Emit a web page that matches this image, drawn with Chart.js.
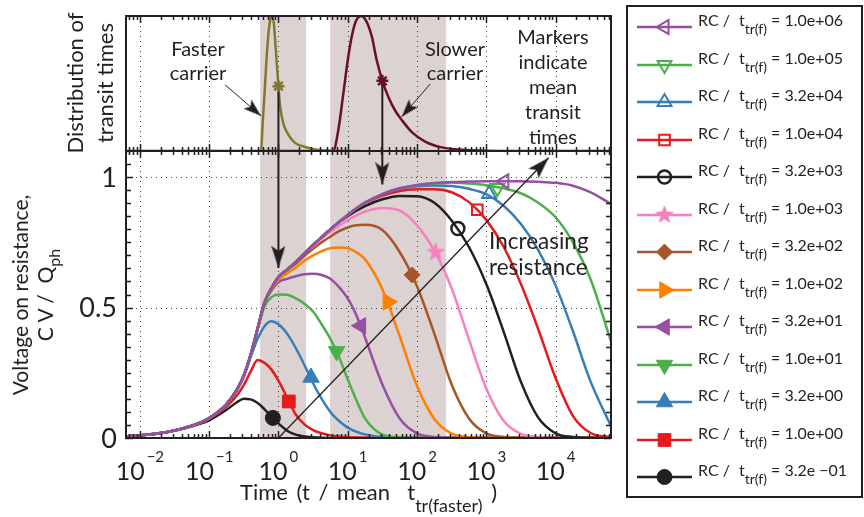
<!DOCTYPE html>
<html>
<head>
<meta charset="utf-8">
<title>Voltage on resistance for increasing RC</title>
<script src="https://cdn.jsdelivr.net/npm/chart.js@4.4.1/dist/chart.umd.min.js"></script>
<style>
  html, body { margin: 0; padding: 0; background: #fff; }
  #fig { position: relative; width: 864px; height: 517px; overflow: hidden;
         font-family: Lato, "Open Sans", sans-serif; color: #231f20; }
  #fig canvas { position: absolute; left: 0; top: 0; }
  .txt { position: absolute; white-space: nowrap; }
  .sub { position: relative; }
  #legendBox { position: absolute; left: 626px; top: 5px; width: 233px; height: 489px;
               border: 2px solid #231f20; }
</style>
</head>
<body>
<div id="fig">
  <canvas id="main" width="864" height="517"></canvas>
  <canvas id="dist" width="864" height="517"></canvas>

  <div class="txt" style="left:148px;top:36px;width:100px;text-align:center;font-size:20px;line-height:24px">Faster<br>carrier</div>
  <div class="txt" style="left:405px;top:36px;width:100px;text-align:center;font-size:20px;line-height:24px">Slower<br>carrier</div>
  <div class="txt" style="left:503px;top:24px;width:100px;text-align:center;font-size:20px;line-height:25px">Markers<br>indicate<br>mean<br>transit<br>times</div>
  <div class="txt" style="left:489px;top:228px;font-size:22.5px;line-height:26px">Increasing<br>resistance</div>

  <div class="txt" style="left:15px;top:53px;width:150px;height:60px;text-align:center;font-size:22px;line-height:30px;transform:rotate(-90deg)">Distribution of<br>transit times</div>
  <div class="txt" style="left:-118px;top:270px;width:300px;height:50px;text-align:center;font-size:21px;line-height:25px;transform:rotate(-90deg)">Voltage on resistance,<br>C V /&nbsp; Q<span class="sub" style="font-size:16px;top:7px">ph</span></div>
  <div class="txt" style="left:240px;top:481px;font-size:22px;line-height:22px;word-spacing:3px">Time (t / mean&nbsp;&nbsp;t<span class="sub" style="font-size:18px;top:12px">tr(faster)</span> )</div>

  <div id="legendBox"></div>
  <div id="legend"></div>
</div>

<script>
// ---------------- data ----------------
// sample times, as powers of ten of t / mean t_tr(faster)
const timeExp = [-2.2, -2, -1.75, -1.5, -1.25, -1, -0.75, -0.6, -0.5, -0.4, -0.3, -0.2, -0.1, 0,
  0.125, 0.25, 0.375, 0.5, 0.625, 0.75, 0.875, 1, 1.125, 1.25, 1.5, 1.75, 2, 2.25, 2.5, 2.75,
  3, 3.25, 3.5, 3.75, 4, 4.25, 4.5, 4.8];
const times = timeExp.map(function (e) { return Math.pow(10, e); });

const rcLabels = ['1.0e+06', '1.0e+05', '3.2e+04', '1.0e+04', '3.2e+03', '1.0e+03', '3.2e+02',
  '1.0e+02', '3.2e+01', '1.0e+01', '3.2e+00', '1.0e+00', '3.2e \u221201'];

// C V / Q_ph for each RC / t_tr(f)
const vRC1e6 = [0.006, 0.010, 0.017, 0.029, 0.047, 0.076, 0.13, 0.185, 0.24, 0.32, 0.42, 0.52, 0.575, 0.617,
  0.645, 0.675, 0.707, 0.74, 0.77, 0.80, 0.828, 0.855, 0.88, 0.902, 0.935, 0.957, 0.970, 0.977, 0.981, 0.983,
  0.984, 0.984, 0.984, 0.982, 0.978, 0.967, 0.942, 0.897];
const vRC1e5 = [0.006, 0.010, 0.017, 0.029, 0.047, 0.076, 0.13, 0.185, 0.24, 0.32, 0.42, 0.52, 0.575, 0.617,
  0.645, 0.675, 0.707, 0.74, 0.77, 0.80, 0.828, 0.855, 0.88, 0.902, 0.935, 0.957, 0.969, 0.975, 0.979, 0.975,
  0.969, 0.957, 0.938, 0.902, 0.846, 0.75, 0.612, 0.37];
const vRC3e4 = [0.006, 0.010, 0.017, 0.029, 0.047, 0.076, 0.13, 0.185, 0.24, 0.32, 0.42, 0.52, 0.575, 0.617,
  0.645, 0.675, 0.707, 0.74, 0.77, 0.80, 0.828, 0.855, 0.88, 0.902, 0.934, 0.955, 0.965, 0.968, 0.966, 0.955,
  0.935, 0.89, 0.82, 0.72, 0.585, 0.41, 0.22, 0.045];
const vRC1e4 = [0.006, 0.010, 0.017, 0.029, 0.047, 0.076, 0.13, 0.185, 0.24, 0.32, 0.42, 0.52, 0.575, 0.617,
  0.645, 0.675, 0.707, 0.74, 0.77, 0.80, 0.828, 0.855, 0.88, 0.90, 0.929, 0.947, 0.953, 0.953, 0.942, 0.904,
  0.836, 0.733, 0.59, 0.417, 0.23, 0.085, 0.02, 0.003];
const vRC3e3 = [0.006, 0.010, 0.017, 0.029, 0.047, 0.076, 0.13, 0.185, 0.24, 0.32, 0.42, 0.52, 0.575, 0.617,
  0.645, 0.675, 0.707, 0.74, 0.77, 0.80, 0.828, 0.85, 0.871, 0.889, 0.915, 0.928, 0.927, 0.902, 0.834, 0.732,
  0.59, 0.408, 0.215, 0.078, 0.018, 0.004, 0.001, 0];
const vRC1e3 = [0.006, 0.010, 0.017, 0.029, 0.047, 0.076, 0.13, 0.185, 0.24, 0.32, 0.42, 0.52, 0.575, 0.617,
  0.645, 0.675, 0.707, 0.735, 0.764, 0.79, 0.813, 0.835, 0.853, 0.868, 0.882, 0.872, 0.815, 0.718, 0.574, 0.378,
  0.19, 0.066, 0.016, 0.004, 0.001, 0, 0, 0];
const vRC3e2 = [0.006, 0.010, 0.017, 0.029, 0.047, 0.076, 0.13, 0.185, 0.24, 0.32, 0.42, 0.52, 0.575, 0.617,
  0.645, 0.668, 0.698, 0.725, 0.75, 0.772, 0.793, 0.807, 0.815, 0.817, 0.797, 0.713, 0.582, 0.40, 0.205, 0.075,
  0.018, 0.004, 0.001, 0, 0, 0, 0, 0];
const vRC1e2 = [0.006, 0.010, 0.017, 0.029, 0.047, 0.076, 0.13, 0.185, 0.24, 0.32, 0.42, 0.52, 0.57, 0.606,
  0.631, 0.653, 0.679, 0.70, 0.716, 0.727, 0.73, 0.727, 0.712, 0.685, 0.57, 0.39, 0.2, 0.073, 0.017, 0.004,
  0.001, 0, 0, 0, 0, 0, 0, 0];
const vRC3e1 = [0.006, 0.010, 0.017, 0.029, 0.047, 0.076, 0.13, 0.185, 0.24, 0.32, 0.42, 0.52, 0.565, 0.597,
  0.61, 0.62, 0.628, 0.63, 0.625, 0.61, 0.578, 0.535, 0.47, 0.385, 0.205, 0.075, 0.018, 0.004, 0.001, 0,
  0, 0, 0, 0, 0, 0, 0, 0];
const vRC1e1 = [0.006, 0.010, 0.017, 0.029, 0.047, 0.076, 0.13, 0.185, 0.24, 0.32, 0.415, 0.505, 0.54, 0.55,
  0.549, 0.535, 0.515, 0.485, 0.435, 0.38, 0.31, 0.225, 0.145, 0.075, 0.013, 0.003, 0.001, 0, 0, 0,
  0, 0, 0, 0, 0, 0, 0, 0];
const vRC3e0 = [0.006, 0.010, 0.017, 0.029, 0.047, 0.075, 0.128, 0.182, 0.233, 0.31, 0.38, 0.428, 0.447, 0.436,
  0.40, 0.345, 0.28, 0.21, 0.15, 0.10, 0.065, 0.04, 0.024, 0.014, 0.004, 0.001, 0, 0, 0, 0,
  0, 0, 0, 0, 0, 0, 0, 0];
const vRC1e0 = [0.006, 0.010, 0.017, 0.029, 0.046, 0.072, 0.12, 0.163, 0.203, 0.255, 0.299, 0.288, 0.262, 0.22,
  0.155, 0.09, 0.052, 0.03, 0.018, 0.01, 0.006, 0.003, 0.002, 0.001, 0, 0, 0, 0, 0, 0,
  0, 0, 0, 0, 0, 0, 0, 0];
const vRC3em1 = [0.006, 0.010, 0.017, 0.028, 0.045, 0.068, 0.108, 0.137, 0.15, 0.148, 0.134, 0.11, 0.083, 0.056,
  0.028, 0.013, 0.006, 0.003, 0.001, 0, 0, 0, 0, 0, 0, 0, 0, 0, 0, 0,
  0, 0, 0, 0, 0, 0, 0, 0];
const voltages = [vRC1e6, vRC1e5, vRC3e4, vRC1e4, vRC3e3, vRC1e3, vRC3e2, vRC1e2, vRC3e1, vRC1e1, vRC3e0, vRC1e0, vRC3em1];

// marker on each curve (mean transit time of the voltage pulse)
const markerExp = [3.26, 3.16, 3.04, 2.87, 2.59, 2.27, 1.93, 1.58, 1.19, 0.84, 0.47, 0.15, -0.08];
const markerV = [0.984, 0.958, 0.935, 0.875, 0.803, 0.712, 0.625, 0.522, 0.43, 0.332, 0.232, 0.14, 0.077];

// transit time distributions (top panel, peak = 1)
const fastExp = [-0.3, -0.25, -0.23, -0.2, -0.173, -0.144, -0.115, -0.096, -0.067, -0.038, 0, 0.025, 0.073,
  0.145, 0.24, 0.385, 0.58, 0.8, 1.2];
const fastDist = [0, 0, 0.18, 0.43, 0.67, 0.87, 0.98, 1.0, 0.95, 0.75, 0.48, 0.33, 0.2, 0.12, 0.06, 0.03, 0.007, 0.001, 0];
const slowExp = [-2.2, 0.79, 0.866, 0.938, 1.0, 1.059, 1.116, 1.193, 1.26, 1.347, 1.42, 1.5, 1.587, 1.684, 1.78,
  1.925, 2.117, 2.357, 2.597, 2.98, 3.5, 4.8];
const slowDist = [0, 0, 0.16, 0.43, 0.67, 0.85, 0.96, 1.0, 0.97, 0.85, 0.67, 0.52, 0.40, 0.30, 0.23, 0.14, 0.07,
  0.027, 0.012, 0.002, 0, 0];
const meanTransit = [1, 31.6];      // faster, slower
const meanDist = [0.48, 0.52];
const meanArrowTip = [0.652, 0.972]; // where the arrows stop on the voltage axis

// shaded transit windows
const bandLo = [0.545, 5.57];
const bandHi = [2.51, 263];

// annotation arrows: [from, to] in (time, value)
const fasterArrow = [[0.17, 0.49], [0.562, 0.26]];
const slowerArrow = [[155, 0.496], [60.3, 0.254]];
const resistanceArrow = [[1, 0], [7943, 1.074]];

const decades = [-2, -1, 0, 1, 2, 3, 4];
const yTickValues = [0, 0.5, 1];
const yTickLabels = ['0', '0.5', '1'];

// ---------------- styles ----------------
const ink = '#231f20';
const colors = ['#984ea3', '#4daf4a', '#377eb8', '#e41a1c', '#231f20', '#f781bf', '#a65628',
  '#ff7f00', '#984ea3', '#4daf4a', '#377eb8', '#e41a1c', '#231f20'];
const fastColor = '#82772f';
const slowColor = '#6a0f2b';

function makeStar(r, color) {
  var c = document.createElement('canvas');
  c.width = c.height = 2 * r + 2;
  var g = c.getContext('2d');
  g.fillStyle = color;
  g.beginPath();
  for (var k = 0; k < 10; k++) {
    var rad = k % 2 === 0 ? r : r * 0.42;
    var a = -Math.PI / 2 + k * Math.PI / 5;
    g.lineTo(r + 1 + rad * Math.cos(a), r + 1 + rad * Math.sin(a));
  }
  g.closePath();
  g.fill();
  return c;
}

// arrow head pointing up, tip at the centre of the image
function makeArrowHead(w, len, notch) {
  var c = document.createElement('canvas');
  c.width = w;
  c.height = 2 * len;
  var g = c.getContext('2d');
  g.fillStyle = ink;
  g.beginPath();
  g.moveTo(w / 2, len);
  g.lineTo(w, 2 * len);
  g.lineTo(w / 2, 2 * len - notch);
  g.lineTo(0, 2 * len);
  g.closePath();
  g.fill();
  return c;
}

const bigHead = makeArrowHead(14, 22, 5);
const smallHead = makeArrowHead(12, 18, 4);

const markerStyles = [
  { style: 'triangle', rot: 270, r: 8, bw: 2, open: true },
  { style: 'triangle', rot: 180, r: 8, bw: 2, open: true },
  { style: 'triangle', rot: 0, r: 8, bw: 2, open: true },
  { style: 'rect', rot: 0, r: 7.5, bw: 2, open: true },
  { style: 'circle', rot: 0, r: 6.5, bw: 2.5, open: true },
  { style: makeStar(10, '#f781bf'), rot: 0, r: 9, bw: 1, open: false },
  { style: 'rectRot', rot: 0, r: 8, bw: 1, open: false },
  { style: 'triangle', rot: 90, r: 9.5, bw: 1, open: false },
  { style: 'triangle', rot: 270, r: 9.5, bw: 1, open: false },
  { style: 'triangle', rot: 180, r: 9.5, bw: 1, open: false },
  { style: 'triangle', rot: 0, r: 9.5, bw: 1, open: false },
  { style: 'rect', rot: 0, r: 9, bw: 1, open: false },
  { style: 'circle', rot: 0, r: 7.5, bw: 1, open: false }
];

// rotation of the head so that it follows the segment from point 0 to point 1
function headRotation(c) {
  var d = c.dataset.data, xs = c.chart.scales.x, ys = c.chart.scales.y;
  var dx = xs.getPixelForValue(d[1].x) - xs.getPixelForValue(d[0].x);
  var dy = ys.getPixelForValue(d[1].y) - ys.getPixelForValue(d[0].y);
  return Math.atan2(dx, -dy) * 180 / Math.PI;
}

function arrowSet(pts, width, head) {
  return {
    data: pts.map(function (p) { return { x: p[0], y: p[1] }; }),
    borderColor: ink,
    borderWidth: width,
    pointStyle: function (c) { return c.dataIndex === 1 && head ? head : 'circle'; },
    pointRadius: function (c) { return c.dataIndex === 1 && head ? 5 : 0; },
    pointRotation: headRotation,
    order: 2
  };
}

// ---------------- axes, grid, bands ----------------
function axesPlugin(cfg) {
  return {
    id: 'axes' + cfg.name,
    beforeDatasetsDraw: function (chart) {
      var ctx = chart.ctx, a = chart.chartArea, xs = chart.scales.x, ys = chart.scales.y;
      ctx.save();
      ctx.fillStyle = '#dcd2d2';
      bandLo.forEach(function (lo, i) {
        var x0 = xs.getPixelForValue(lo), x1 = xs.getPixelForValue(bandHi[i]);
        ctx.fillRect(x0, a.top, x1 - x0, a.bottom - a.top);
      });
      ctx.strokeStyle = '#444';
      ctx.lineWidth = 1;
      ctx.setLineDash([1, 4]);
      ctx.beginPath();
      decades.forEach(function (d) {
        var px = Math.round(xs.getPixelForValue(Math.pow(10, d))) + 0.5;
        ctx.moveTo(px, a.top);
        ctx.lineTo(px, a.bottom);
      });
      cfg.gridY.forEach(function (v) {
        var py = Math.round(ys.getPixelForValue(v)) + 0.5;
        ctx.moveTo(a.left, py);
        ctx.lineTo(a.right, py);
      });
      ctx.stroke();
      ctx.restore();
    },
    afterDatasetsDraw: function (chart) {
      var ctx = chart.ctx, a = chart.chartArea, xs = chart.scales.x, ys = chart.scales.y;
      ctx.save();
      ctx.strokeStyle = ink;
      ctx.lineWidth = 1.5;
      ctx.beginPath();
      for (var d = -3; d <= 4; d++) {
        for (var k = 1; k <= 9; k++) {
          var v = k * Math.pow(10, d);
          if (v < xs.min || v > xs.max) continue;
          var px = Math.round(xs.getPixelForValue(v)) + 0.5;
          var len = k === 1 ? 7 : 4;
          ctx.moveTo(px, a.bottom); ctx.lineTo(px, a.bottom - len);
          ctx.moveTo(px, a.top); ctx.lineTo(px, a.top + len);
        }
      }
      if (cfg.yStep) {
        for (var y = 0; y <= ys.max + 1e-9; y += cfg.yStep) {
          var py = Math.round(ys.getPixelForValue(y)) + 0.5;
          var l = Math.abs(y * 2 - Math.round(y * 2)) < 1e-6 ? 7 : 5;
          ctx.moveTo(a.left, py); ctx.lineTo(a.left + l, py);
          ctx.moveTo(a.right, py); ctx.lineTo(a.right - l, py);
        }
      }
      ctx.stroke();
      ctx.lineWidth = 2;
      ctx.strokeRect(a.left, a.top, a.right - a.left, a.bottom - a.top);
      ctx.restore();
    },
    afterDraw: function (chart) {
      if (!cfg.labels) return;
      var ctx = chart.ctx, a = chart.chartArea, xs = chart.scales.x, ys = chart.scales.y;
      ctx.save();
      ctx.fillStyle = ink;
      ctx.textBaseline = 'alphabetic';
      decades.forEach(function (d) {
        var px = xs.getPixelForValue(Math.pow(10, d));
        var sup = d < 0 ? '\u2212' + (-d) : String(d);
        ctx.font = '25px Lato';
        var w1 = ctx.measureText('10').width;
        ctx.font = '15px Lato';
        var w2 = ctx.measureText(sup).width;
        var x0 = px - (w1 + 2 + w2) / 2;
        ctx.font = '25px Lato';
        ctx.fillText('10', x0, 480);
        ctx.font = '15px Lato';
        ctx.fillText(sup, x0 + w1 + 2, 462);
      });
      ctx.font = '27px Lato';
      ctx.textAlign = 'right';
      ctx.textBaseline = 'middle';
      yTickValues.forEach(function (v, i) {
        ctx.fillText(yTickLabels[i], a.left - 9, ys.getPixelForValue(v) + 1);
      });
      ctx.restore();
    }
  };
}

// ---------------- main panel ----------------
var curveSets = voltages.map(function (vals, i) {
  return {
    label: 'RC / t_tr(f) = ' + rcLabels[i],
    data: times.map(function (t, j) { return { x: t, y: vals[j] }; }),
    borderColor: colors[i],
    borderWidth: 2.5,
    pointRadius: 0,
    cubicInterpolationMode: 'monotone',
    order: 3
  };
});
var markerSets = voltages.map(function (v, i) {
  var m = markerStyles[i];
  return {
    data: [{ x: Math.pow(10, markerExp[i]), y: markerV[i] }],
    showLine: false,
    pointStyle: m.style,
    pointRotation: m.rot,
    pointRadius: m.r,
    pointBorderWidth: m.bw,
    pointBorderColor: colors[i],
    pointBackgroundColor: m.open ? 'rgba(0,0,0,0)' : colors[i],
    order: 1
  };
});
var meanArrows = meanTransit.map(function (t, i) {
  return arrowSet([[t, 1.1], [t, meanArrowTip[i]]], 2, bigHead);
});

new Chart(document.getElementById('main'), {
  type: 'line',
  data: { datasets: curveSets.concat(markerSets, meanArrows, [arrowSet(resistanceArrow, 1.3, bigHead)]) },
  options: {
    responsive: false,
    animation: false,
    devicePixelRatio: 1,
    events: [],
    layout: { padding: { left: 126, right: 253, top: 151, bottom: 79 } },
    scales: {
      x: { type: 'logarithmic', min: Math.pow(10, -2.2), max: Math.pow(10, 4.8), display: false },
      y: { type: 'linear', min: 0, max: 1.1, display: false }
    },
    plugins: { legend: { display: false }, tooltip: { enabled: false } }
  },
  plugins: [axesPlugin({ name: 'Main', gridY: [0.5, 1], yStep: 0.05, labels: true })]
});

// ---------------- distribution panel ----------------
new Chart(document.getElementById('dist'), {
  type: 'line',
  data: {
    datasets: [
      {
        data: meanTransit.map(function (t, i) { return { x: t, y: meanDist[i] }; }),
        showLine: false,
        pointStyle: 'star',
        pointRadius: 6,
        pointBorderWidth: 2.5,
        pointBorderColor: [fastColor, slowColor],
        order: 1
      },
      arrowSet([[meanTransit[0], meanDist[0]], [meanTransit[0], 0]], 2, null),
      arrowSet([[meanTransit[1], meanDist[1]], [meanTransit[1], 0]], 2, null),
      arrowSet(fasterArrow, 1, smallHead),
      arrowSet(slowerArrow, 1, smallHead),
      {
        data: fastExp.map(function (e, i) { return { x: Math.pow(10, e), y: fastDist[i] }; }),
        borderColor: fastColor, borderWidth: 2.5, pointRadius: 0,
        cubicInterpolationMode: 'monotone', order: 3
      },
      {
        data: slowExp.map(function (e, i) { return { x: Math.pow(10, e), y: slowDist[i] }; }),
        borderColor: slowColor, borderWidth: 2.5, pointRadius: 0,
        cubicInterpolationMode: 'monotone', order: 3
      }
    ]
  },
  options: {
    responsive: false,
    animation: false,
    devicePixelRatio: 1,
    events: [],
    layout: { padding: { left: 126, right: 253, top: 16, bottom: 366 } },
    scales: {
      x: { type: 'logarithmic', min: Math.pow(10, -2.2), max: Math.pow(10, 4.8), display: false },
      y: { type: 'linear', min: 0, max: 1, display: false }
    },
    plugins: { legend: { display: false }, tooltip: { enabled: false } }
  },
  plugins: [axesPlugin({ name: 'Dist', gridY: [], yStep: 0, labels: false })]
});

// ---------------- legend ----------------
var legend = document.getElementById('legend');
rcLabels.forEach(function (lab, i) {
  var yc = 27 + 37.5 * i;
  var m = markerStyles[i];
  var sample = document.createElement('canvas');
  sample.width = 60;
  sample.height = 30;
  sample.style.left = '635px';
  sample.style.top = (yc - 15) + 'px';
  var g = sample.getContext('2d');
  g.strokeStyle = colors[i];
  g.lineWidth = 2.5;
  g.beginPath();
  g.moveTo(2, 15);
  g.lineTo(57, 15);
  g.stroke();
  g.fillStyle = m.open ? 'rgba(0,0,0,0)' : colors[i];
  g.lineWidth = m.bw;
  Chart.helpers.drawPoint(g, { pointStyle: m.style, rotation: m.rot, radius: m.r, borderWidth: m.bw }, 29.5, 15);
  legend.appendChild(sample);

  var row = document.createElement('div');
  row.className = 'txt';
  row.style.top = (yc - 17) + 'px';
  row.style.left = '0px';
  row.style.fontSize = '16px';
  row.style.lineHeight = '20px';
  row.innerHTML = '<span class="txt" style="left:698px">RC /</span>' +
    '<span class="txt" style="left:739px">t<span class="sub" style="font-size:14px;top:8px">tr(f)</span></span>' +
    '<span class="txt" style="left:771px">= ' + lab + '</span>';
  legend.appendChild(row);
});
</script>
</body>
</html>
